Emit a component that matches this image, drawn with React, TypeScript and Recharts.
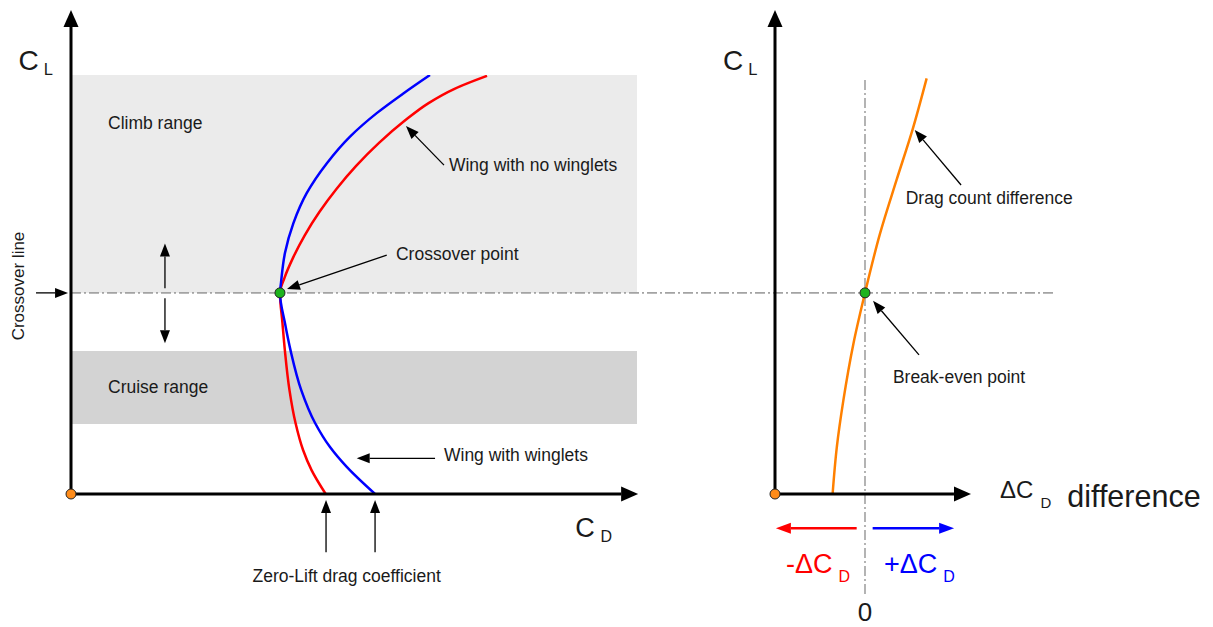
import React from "react";
import {
  LineChart,
  Line,
  XAxis,
  YAxis,
  ReferenceArea,
  ReferenceLine,
  ReferenceDot,
} from "recharts";

// drag polars, CD in drag counts (x 10^4) against CL
const RED_CL = [0, 0.057, 0.105, 0.17, 0.248, 0.341, 0.408, 0.48, 0.516, 0.563, 0.618, 0.673, 0.728, 0.783, 0.838, 0.89, 0.933, 0.967, 0.998];
const RED_CD = [225.0, 212.5, 205.0, 198.3, 193.0, 189.0, 186.8, 184.6, 188.6, 196.0, 206.6, 219.4, 234.5, 251.9, 272.1, 294.4, 315.9, 338.8, 367.5];
const BLUE_CL = [0, 0.064, 0.112, 0.17, 0.248, 0.341, 0.408, 0.48, 0.504, 0.575, 0.646, 0.718, 0.789, 0.853, 0.909, 0.956, 1.0];
const BLUE_CD = [268.6, 243.8, 228.8, 215.5, 203.4, 194.1, 189.0, 184.6, 185.5, 189.0, 196.4, 208.2, 225.9, 246.5, 270.1, 293.6, 317.1];

// drag count difference (no winglets minus winglets)
const DIFF_CL = [0, 0.113, 0.224, 0.36, 0.48, 0.622, 0.749, 0.869, 0.992];
const DIFF_DCD = [-14.4, -12.5, -9.6, -5.1, 0, 6.7, 14.0, 21.1, 27.4];

const CROSSOVER_CL = 0.48;
const CROSSOVER_CD = 184.6;
const CLIMB_RANGE = [0.48, 1.0];
const CRUISE_RANGE = [0.167, 0.341];
const ZERO_LIFT_CD = [225.3, 268.6];

const redData = RED_CL.map((cl, i) => ({ cd: RED_CD[i], cl }));
const blueData = BLUE_CL.map((cl, i) => ({ cd: BLUE_CD[i], cl }));
const diffData = DIFF_CL.map((cl, i) => ({ d: DIFF_DCD[i], cl }));

const FONT = '"Liberation Sans", Arial, Helvetica, sans-serif';
const INK = "#1a1a1a";

// line with a filled head at the (x2, y2) end
const arrow =
  (color: string, width: number, headLen: number, headW: number) =>
  (p: any) => {
    const { x1, y1, x2, y2 } = p;
    const a = Math.atan2(y2 - y1, x2 - x1);
    const bx = x2 - headLen * Math.cos(a);
    const by = y2 - headLen * Math.sin(a);
    const nx = (-Math.sin(a) * headW) / 2;
    const ny = (Math.cos(a) * headW) / 2;
    return (
      <g>
        <line x1={x1} y1={y1} x2={bx} y2={by} stroke={color} strokeWidth={width} />
        <polygon
          points={`${x2},${y2} ${bx + nx},${by + ny} ${bx - nx},${by - ny}`}
          fill={color}
        />
      </g>
    );
  };

const axisArrow = arrow("#000", 3, 17, 15);
const noteArrow = arrow("#000", 1.3, 13, 10);

const seg = (x1: number, y1: number, x2: number, y2: number, shape: any, key: string) => (
  <ReferenceLine
    key={key}
    segment={[{ x: x1, y: y1 }, { x: x2, y: y2 }]}
    ifOverflow="visible"
    shape={shape}
  />
);

const note = (
  x: number,
  y: number,
  text: React.ReactNode,
  key: string,
  opts: { size?: number; color?: string; anchor?: string; rotate?: number } = {}
) => (
  <ReferenceDot
    key={key}
    x={x}
    y={y}
    r={0}
    ifOverflow="visible"
    shape={(p: any) => (
      <text
        x={p.cx}
        y={p.cy}
        fontFamily={FONT}
        fontSize={opts.size ?? 17.5}
        fill={opts.color ?? INK}
        textAnchor={(opts.anchor as any) ?? "start"}
        transform={opts.rotate ? `rotate(${opts.rotate} ${p.cx} ${p.cy})` : undefined}
      >
        {text}
      </text>
    )}
  />
);

const dot = (x: number, y: number, fill: string, key: string) => (
  <ReferenceDot key={key} x={x} y={y} r={5} fill={fill} stroke="#222" strokeWidth={1} ifOverflow="visible" />
);

const PolarChart = () => (
  <LineChart width={1213} height={627} margin={{ top: 75, right: 576, bottom: 133, left: 71 }}>
    <XAxis type="number" dataKey="cd" domain={[0, 500]} hide allowDataOverflow />
    <YAxis type="number" domain={[0, 1]} hide allowDataOverflow />
    <ReferenceArea x1={0} x2={500} y1={CLIMB_RANGE[0]} y2={CLIMB_RANGE[1]} fill="#ebebeb" fillOpacity={1} stroke="none" />
    <ReferenceArea x1={0} x2={500} y1={CRUISE_RANGE[0]} y2={CRUISE_RANGE[1]} fill="#d3d3d3" fillOpacity={1} stroke="none" />
    <ReferenceLine
      segment={[{ x: 0, y: CROSSOVER_CL }, { x: 869, y: CROSSOVER_CL }]}
      stroke="#a3a3a3"
      strokeWidth={1.6}
      strokeDasharray="10 3 2 3"
      ifOverflow="visible"
    />
    <Line data={redData} dataKey="cl" type="monotoneY" stroke="#ff0000" strokeWidth={2.5} dot={false} activeDot={false} isAnimationActive={false} />
    <Line data={blueData} dataKey="cl" type="monotoneY" stroke="#0000ff" strokeWidth={2.5} dot={false} activeDot={false} isAnimationActive={false} />

    {seg(0, 0, 0, 1.155, axisArrow, "ya")}
    {seg(0, 0, 501, 0, axisArrow, "xa")}

    {seg(-30.9, CROSSOVER_CL, -2.6, CROSSOVER_CL, noteArrow, "co")}
    {seg(83, 0.491, 83, 0.598, noteArrow, "up")}
    {seg(83, 0.467, 83, 0.36, noteArrow, "dn")}
    {seg(278.9, 0.57, 190.8, 0.489, noteArrow, "cp")}
    {seg(329.5, 0.785, 295.9, 0.878, noteArrow, "nw")}
    {seg(321.6, 0.0852, 252.4, 0.0852, noteArrow, "ww")}
    {seg(ZERO_LIFT_CD[0], -0.139, ZERO_LIFT_CD[0], -0.0143, noteArrow, "z1")}
    {seg(ZERO_LIFT_CD[1], -0.139, ZERO_LIFT_CD[1], -0.0143, noteArrow, "z2")}

    {dot(CROSSOVER_CD, CROSSOVER_CL, "#1db31d", "xd")}
    {dot(0, 0, "#ff8c1a", "od")}

    {note(-46.4, 1.011, (
      <>
        C<tspan dx={5} dy={4.3} fontSize={16.5}>L</tspan>
      </>
    ), "cl", { size: 28 })}
    {note(445.5, -0.1026, (
      <>
        C<tspan dx={5.7} dy={4.7} fontSize={16}>D</tspan>
      </>
    ), "cd", { size: 27 })}
    {note(32.7, 0.87, "Climb range", "t1")}
    {note(32.7, 0.2399, "Cruise range", "t2")}
    {note(333.9, 0.771, "Wing with no winglets", "t3")}
    {note(287.1, 0.5585, "Crossover point", "t4")}
    {note(329.5, 0.0776, "Wing with winglets", "t5")}
    {note(160.3, -0.2112, "Zero-Lift drag coefficient", "t6")}
    {note(-41.3, 0.4964, "Crossover line", "t7", { anchor: "middle", rotate: -90, size: 17 })}
  </LineChart>
);

const DiffChart = () => (
  <LineChart width={1213} height={627} margin={{ top: 75, right: 235.5, bottom: 133, left: 775 }}>
    <XAxis type="number" dataKey="d" domain={[-40, 50]} hide allowDataOverflow />
    <YAxis type="number" domain={[0, 1]} hide allowDataOverflow />
    <ReferenceLine
      segment={[{ x: 0, y: 0.988 }, { x: 0, y: -0.243 }]}
      stroke="#8c8c8c"
      strokeWidth={1.3}
      strokeDasharray="10 3 2 3"
      ifOverflow="visible"
    />
    <Line data={diffData} dataKey="cl" type="monotoneY" stroke="#ff8000" strokeWidth={2.5} dot={false} activeDot={false} isAnimationActive={false} />

    {seg(-40, 0, -40, 1.155, axisArrow, "ya")}
    {seg(-40, 0, 47.1, 0, axisArrow, "xa")}
    {seg(-3.7, -0.0819, -39.6, -0.0819, arrow("#ff0000", 2.5, 15, 11), "neg")}
    {seg(3.4, -0.0819, 39.6, -0.0819, arrow("#0000ff", 2.5, 15, 11), "pos")}
    {seg(42.7, 0.7375, 22.1, 0.869, noteArrow, "dc")}
    {seg(24.0, 0.332, 3.56, 0.461, noteArrow, "be")}

    {dot(0, CROSSOVER_CL, "#1db31d", "bd")}
    {dot(-40, 0, "#ff8c1a", "od")}

    {note(-63.1, 1.011, (
      <>
        C<tspan dx={5} dy={4.3} fontSize={16.5}>L</tspan>
      </>
    ), "cl", { size: 28 })}
    {note(60, -0.0103, (
      <>
        ΔC<tspan dx={7} dy={9.7} fontSize={15}>D</tspan>
        <tspan dx={16} dy={-1.3} fontSize={30.5}>difference</tspan>
      </>
    ), "ax", { size: 24 })}
    {note(-35.1, -0.188, (
      <>
        -ΔC<tspan dx={6} dy={9} fontSize={16}>D</tspan>
      </>
    ), "neg", { size: 27, color: "#ff0000" })}
    {note(8.4, -0.188, (
      <>
        +ΔC<tspan dx={6} dy={9} fontSize={16}>D</tspan>
      </>
    ), "pos", { size: 27, color: "#0000ff" })}
    {note(0, -0.3031, "0", "zero", { size: 26, anchor: "middle" })}
    {note(18.1, 0.693, "Drag count difference", "t1")}
    {note(12.4, 0.266, "Break-even point", "t2")}
  </LineChart>
);

export default function App() {
  return (
    <div style={{ position: "absolute", left: 0, top: 0, width: 1213, height: 627, background: "#fff" }}>
      <div style={{ position: "absolute", left: 0, top: 0 }}>
        <PolarChart />
      </div>
      <div style={{ position: "absolute", left: 0, top: 0 }}>
        <DiffChart />
      </div>
    </div>
  );
}
